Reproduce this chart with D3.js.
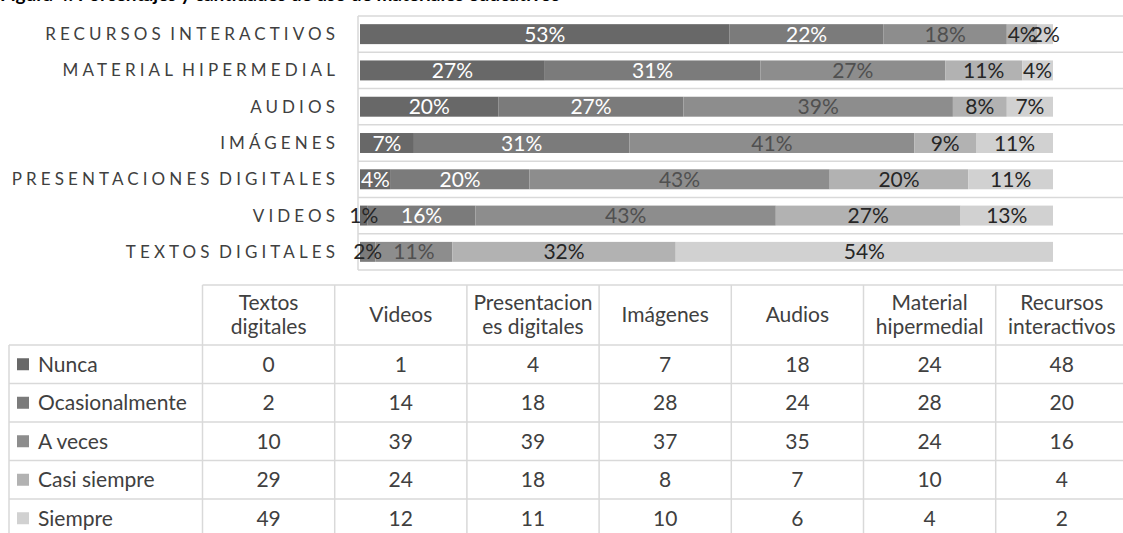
<!DOCTYPE html>
<html>
<head>
<meta charset="utf-8">
<script src="https://cdn.jsdelivr.net/npm/d3@7"></script>
<style>
  body { margin: 0; background: #fff; }
  svg { display: block; font-family: Lato, "Open Sans", sans-serif; }
</style>
</head>
<body>
<svg id="chart"></svg>
<script>
// materials in data order (bar chart draws them bottom to top)
var materials = ["Textos digitales", "Videos", "Presentaciones digitales", "Imágenes",
                 "Audios", "Material hipermedial", "Recursos interactivos"];
// header text of the data table, already wrapped
var tableHeaders = [["Textos", "digitales"], ["Videos"], ["Presentacion", "es digitales"],
                    ["Imágenes"], ["Audios"], ["Material", "hipermedial"], ["Recursos", "interactivos"]];
var levels = ["Nunca", "Ocasionalmente", "A veces", "Casi siempre", "Siempre"];

// counts shown in the table
var nunca          = [0, 1, 4, 7, 18, 24, 48];
var ocasionalmente = [2, 14, 18, 28, 24, 28, 20];
var aVeces         = [10, 39, 39, 37, 35, 24, 16];
var casiSiempre    = [29, 24, 18, 8, 7, 10, 4];
var siempre        = [49, 12, 11, 10, 6, 4, 2];

// percentage labels as printed on the bars
var pctNunca          = [null, 1, 4, 7, 20, 27, 53];
var pctOcasionalmente = [2, 16, 20, 31, 27, 31, 22];
var pctAVeces         = [11, 43, 43, 41, 39, 27, 18];
var pctCasiSiempre    = [32, 27, 20, 9, 8, 11, 4];
var pctSiempre        = [54, 13, 11, 11, 7, 4, 2];

var counts = [nunca, ocasionalmente, aVeces, casiSiempre, siempre];
var pcts = [pctNunca, pctOcasionalmente, pctAVeces, pctCasiSiempre, pctSiempre];

var colors = ["#686868", "#7b7b7b", "#8d8d8d", "#b2b2b2", "#d1d1d1"];
var labelColors = ["#ffffff", "#ffffff", "#505050", "#262626", "#262626"];

var W = 1123, H = 533;
var svg = d3.select("#chart").attr("width", W).attr("height", H);

// title, mostly cut off at the top of the picture
svg.append("text")
    .attr("x", 0)
    .attr("y", 1)
    .style("font-size", "19px")
    .style("font-weight", "bold")
    .attr("fill", "#000")
    .text("Figura 4. Porcentajes y cantidades de uso de materiales educativos");

// build rows for the stack
var rows = materials.map(function (m, i) {
    var r = {material: m};
    levels.forEach(function (l, k) { r[l] = counts[k][i]; });
    return r;
});
var series = d3.stack().keys(levels).offset(d3.stackOffsetExpand)(rows);

// scales
var x = d3.scaleLinear().domain([0, 1]).range([360, 1053]);
var y = d3.scaleBand()
    .domain(materials.slice().reverse())
    .range([16, 270])
    .paddingInner(0.45)
    .paddingOuter(0.225);

var step = y.step();

// horizontal gridlines on band boundaries
var gridY = d3.range(materials.length + 1).map(function (k) { return 16 + k * step; });
svg.append("g").selectAll("line")
    .data(gridY)
    .enter().append("line")
    .attr("x1", 358).attr("x2", W)
    .attr("y1", function (d) { return d; })
    .attr("y2", function (d) { return d; })
    .attr("stroke", "#d9d9d9")
    .attr("stroke-width", 1.5);

// category axis line
svg.append("line")
    .attr("x1", 358).attr("x2", 358)
    .attr("y1", 16).attr("y2", 270)
    .attr("stroke", "#d9d9d9")
    .attr("stroke-width", 1.5);

// bars
var layer = svg.append("g").selectAll("g")
    .data(series)
    .enter().append("g")
    .attr("fill", function (d, k) { return colors[k]; });

layer.selectAll("rect")
    .data(function (d) { return d; })
    .enter().append("rect")
    .attr("x", function (d) { return x(d[0]); })
    .attr("y", function (d) { return y(d.data.material); })
    .attr("width", function (d) { return x(d[1]) - x(d[0]); })
    .attr("height", y.bandwidth());

// data labels
series.forEach(function (s, k) {
    svg.append("g").selectAll("text")
        .data(s.filter(function (d, i) { return pcts[k][i] !== null; }))
        .enter().append("text")
        .attr("x", function (d) { return (x(d[0]) + x(d[1])) / 2; })
        .attr("y", function (d) { return y(d.data.material) + y.bandwidth() / 2 + 7.5; })
        .attr("text-anchor", "middle")
        .style("font-size", "21px")
        .attr("fill", function (d) {
            return (x(d[1]) - x(d[0]) < 20) ? "#262626" : labelColors[k];
        })
        .text(function (d) { return pcts[k][materials.indexOf(d.data.material)] + "%"; });
});

// category labels
svg.append("g").selectAll("text")
    .data(materials)
    .enter().append("text")
    .attr("x", 339)
    .attr("y", function (d) { return y(d) + y.bandwidth() / 2 + 6; })
    .attr("text-anchor", "end")
    .style("font-size", "17px")
    .style("letter-spacing", "4.1px")
    .style("word-spacing", "-3px")
    .attr("fill", "#404040")
    .text(function (d) { return d.toUpperCase(); });

// data table
var tableTop = 285, headBottom = 345, left = 9;
var colX = d3.scaleBand().domain(materials).range([202.5, 202.5 + 132.2 * materials.length]);
var rowY = d3.scaleBand().domain(levels).range([headBottom, headBottom + 38.5 * levels.length]);
var tbl = svg.append("g")
    .attr("stroke", "#d9d9d9")
    .attr("stroke-width", 1.5);

// vertical lines
materials.forEach(function (m) {
    tbl.append("line")
        .attr("x1", colX(m)).attr("x2", colX(m))
        .attr("y1", tableTop).attr("y2", H);
});
tbl.append("line")
    .attr("x1", left).attr("x2", left)
    .attr("y1", headBottom).attr("y2", H);
// header top
tbl.append("line")
    .attr("x1", colX.range()[0]).attr("x2", W)
    .attr("y1", tableTop).attr("y2", tableTop);
// row lines
levels.forEach(function (l) {
    tbl.append("line")
        .attr("x1", left).attr("x2", W)
        .attr("y1", rowY(l)).attr("y2", rowY(l));
});

// header text
materials.forEach(function (m, i) {
    var lines = tableHeaders[i];
    var cy = (tableTop + headBottom) / 2;
    lines.forEach(function (t, j) {
        svg.append("text")
            .attr("x", colX(m) + colX.bandwidth() / 2)
            .attr("y", cy + 7 + (j - (lines.length - 1) / 2) * 24)
            .attr("text-anchor", "middle")
            .style("font-size", "21px")
            .attr("fill", "#404040")
            .text(t);
    });
});

// row headers with legend keys
levels.forEach(function (l, k) {
    var cy = rowY(l) + rowY.bandwidth() / 2;
    svg.append("rect")
        .attr("x", 17).attr("y", cy - 6)
        .attr("width", 12).attr("height", 12)
        .attr("fill", colors[k]);
    svg.append("text")
        .attr("x", 38).attr("y", cy + 7.5)
        .style("font-size", "21px")
        .attr("fill", "#404040")
        .text(l);
    // values
    svg.append("g").selectAll("text")
        .data(counts[k])
        .enter().append("text")
        .attr("x", function (d, i) { return colX(materials[i]) + colX.bandwidth() / 2; })
        .attr("y", cy + 7.5)
        .attr("text-anchor", "middle")
        .style("font-size", "21px")
        .attr("fill", "#404040")
        .text(function (d) { return d; });
});
</script>
</body>
</html>
